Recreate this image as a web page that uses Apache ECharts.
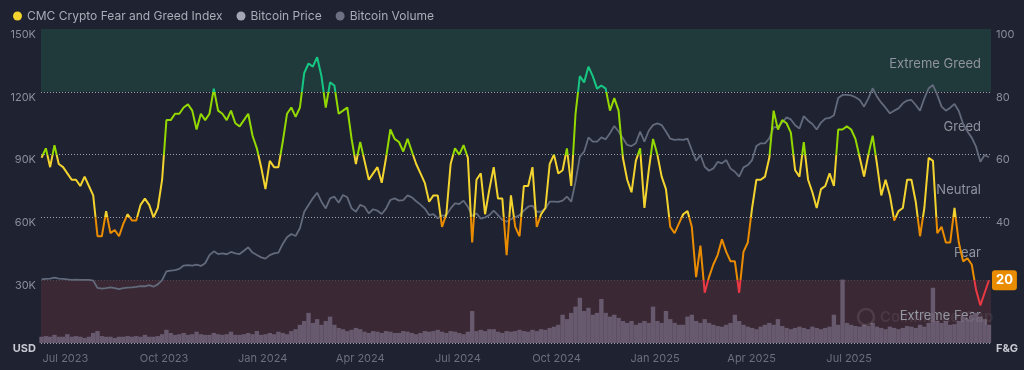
<!DOCTYPE html>
<html><head><meta charset="utf-8">
<script src="https://cdn.jsdelivr.net/npm/echarts@6/dist/echarts.min.js"></script>
<style>html,body{margin:0;padding:0;background:#1f2230;}#c{width:1024px;height:370px;}</style>
</head><body><div id="c"></div>
<script>
// sampling: first sample date and spacing between samples
const START = Date.UTC(2023, 5, 8, 17);
const STEP_HOURS = 96.4;

const fearGreed = [
59,62,56,63,57,56,54,52,52,50,53,50,47,34,34,42,35,36,34,38,41,39,39,44,46,44,40,43,52,71,71,73,73,75,76,74,68,
73,71,73,81,74,73,71,74,70,69,71,73,66,62,56,49,58,56,56,64,73,75,72,75,86,89,88,91,85,75,83,82,73,74,75,65,57,64,
58,52,54,56,51,59,68,65,64,61,65,61,57,54,51,45,47,47,37,41,57,62,60,63,59,32,52,54,41,49,56,46,46,28,47,37,34,
50,50,56,37,41,43,57,60,54,55,62,50,73,85,83,88,85,81,82,81,74,78,74,59,52,48,58,62,43,55,65,60,53,49,37,35,38,
41,42,37,21,31,16,21,25,28,33,29,26,26,16,29,32,43,52,52,53,59,74,68,71,70,67,55,53,64,52,48,43,49,50,54,50,68,
68,69,68,65,59,53,60,66,57,47,52,47,39,42,43,52,52,45,34,43,59,58,35,37,32,32,43,32,26,27,25,17,12,16,20
];

const btcPriceK = [
30.4,30.6,30.8,31.2,30.8,30.6,30.4,30.2,30.3,30.2,30.2,30.2,29.8,26.3,26.0,26.2,26.6,26.2,25.7,26.2,26.5,26.6,26.8,27.2,27.1,27.6,26.9,28.0,30.0,34.2,34.6,34.8,35.4,37.0,37.2,37.0,37.4,
36.8,38.1,42.0,43.8,42.5,42.8,42.4,43.5,42.8,42.5,44.1,45.7,43.2,42.0,40.9,40.3,42.0,42.8,43.2,47.3,50.5,52.1,51.1,54.8,62.7,65.9,69.1,71.8,67.5,64.3,69.1,69.9,67.0,70.7,69.6,64.3,62.7,66.0,
65.1,61.9,63.9,63.2,61.6,64.2,68.3,69.1,68.0,68.3,70.5,69.6,67.7,66.1,64.2,61.1,61.6,59.6,60.8,61.1,64.3,66.7,66.4,68.0,65.1,60.7,61.9,59.4,60.0,61.1,63.2,61.1,58.8,58.0,59.1,60.0,61.1,
63.2,65.1,65.6,62.7,62.7,64.3,67.5,67.5,67.4,68.0,69.9,67.5,77.1,89.0,91.4,98.2,96.2,96.2,98.2,97.3,100.2,103.7,101.0,97.8,94.6,94.1,95.4,101.0,96.2,101.4,104.1,104.9,104.1,101.0,97.6,97.0,97.3,
97.0,97.6,92.2,87.1,89.8,84.2,82.3,83.4,86.5,85.8,87.4,83.3,81.8,79.5,83.9,85.0,87.4,94.1,95.4,95.4,97.8,103.0,103.3,105.3,107.8,106.8,104.0,102.5,108.4,106.2,104.6,102.0,105.3,107.2,107.5,108.8,117.0,
118.5,118.5,118.3,117.4,116.1,112.9,116.9,121.7,117.7,114.8,112.4,109.7,111.0,112.1,114.5,115.8,116.1,113.7,111.0,116.9,121.7,123.2,118.5,112.9,111.0,112.4,114.2,110.8,104.6,101.0,98.1,93.8,86.6,89.8,88.7
];

const btcVolumeB = [
10,11,10,13,10,10,14,10,11,10,8,10,16,19,11,10,10,8,10,10,11,10,11,10,13,10,10,11,14,21,16,13,14,16,13,14,18,
14,13,13,16,14,13,14,18,13,13,14,16,14,19,13,14,16,14,18,16,14,19,22,29,35,48,32,38,29,35,42,29,24,22,19,21,24,22,
18,16,19,18,16,19,18,16,16,19,18,16,14,16,19,18,19,21,18,16,19,18,16,14,18,51,19,21,19,22,22,18,16,19,18,19,21,
19,18,21,19,22,21,24,26,29,45,38,48,58,72,51,56,45,48,70,48,42,45,40,35,32,35,29,32,35,32,58,35,32,51,38,32,29,
29,42,45,35,32,38,32,29,27,26,29,32,45,35,29,26,24,22,26,29,32,29,38,27,24,22,24,26,24,22,26,24,22,24,26,45,29,
101,32,29,27,26,29,27,32,26,24,22,26,24,22,24,27,26,24,29,26,32,88,35,32,35,29,30,35,42,38,45,48,42,38,29
];

const quarterTicks = ['2023-07-01','2023-10-01','2024-01-01','2024-04-01','2024-07-01','2024-10-01','2025-01-01','2025-04-01','2025-07-01'];
const quarterLabels = ['Jul 2023','Oct 2023','Jan 2024','Apr 2024','Jul 2024','Oct 2024','Jan 2025','Apr 2025','Jul 2025'];
const bandNames = ['Extreme Fear','Fear','Neutral','Greed','Extreme Greed'];
const bandBounds = [0,20,40,60,80,100];
const bandColors = ['#EA3943','#EA8C00','#F3D42F','#93D900','#16C784'];
const seriesNames = ['CMC Crypto Fear and Greed Index','Bitcoin Price','Bitcoin Volume'];

const ts = i => START + i * STEP_HOURS * 3600 * 1000;
const fgData = fearGreed.map((v, i) => [ts(i), v]);
const priceData = btcPriceK.map((v, i) => [ts(i), v * 1000]);
const volData = btcVolumeB.map((v, i) => [ts(i), v]);
const tickTimes = quarterTicks.map(d => Date.parse(d + 'T00:00:00Z'));

const bandFill = ['#3a2834', 'transparent', 'transparent', 'transparent', '#203a3b'];
const markAreaData = bandNames.map((n, k) => [
  { name: n, yAxis: bandBounds[k] * 1500, itemStyle: { color: bandFill[k] } },
  { yAxis: bandBounds[k + 1] * 1500 }
]);

const chart = echarts.init(document.getElementById('c'));
chart.setOption({
  backgroundColor: '#1f2230',
  animation: false,
  textStyle: { fontFamily: 'Inter' },
  legend: {
    left: 8, top: 5, icon: 'circle', itemWidth: 9, itemHeight: 9, itemGap: 14,
    textStyle: { color: '#a9adb8', fontSize: 12, fontFamily: 'Inter' },
    data: [
      { name: seriesNames[0], itemStyle: { color: '#F3D42F' } },
      { name: seriesNames[1], itemStyle: { color: '#a3a7b3' } },
      { name: seriesNames[2], itemStyle: { color: '#6c7080' } }
    ]
  },
  grid: { left: 41, right: 33, top: 29, bottom: 27, containLabel: false },
  xAxis: {
    type: 'value',
    min: Date.UTC(2023, 5, 8, 5),
    max: Date.UTC(2025, 10, 10, 7),
    axisLine: { show: false }, axisTick: { show: false }, splitLine: { show: false },
    axisLabel: {
      customValues: tickTimes,
      formatter: v => { const k = tickTimes.indexOf(v); return k >= 0 ? quarterLabels[k] : ''; },
      color: '#6a7080', fontSize: 11, margin: 10, fontFamily: 'Inter',
      showMinLabel: true, showMaxLabel: true
    }
  },
  yAxis: [
    {
      type: 'value', min: 0, max: 150000, interval: 30000, position: 'left',
      axisLine: { show: false }, axisTick: { show: false },
      splitLine: { show: true, lineStyle: { color: 'rgba(200,204,212,0.75)', type: [1, 2], width: 1 } },
      axisLabel: {
        margin: 5, verticalAlign: 'top', color: '#8a8e9a', fontSize: 11, fontFamily: 'Inter',
        formatter: v => v === 0 ? '{u|USD}' : (v / 1000) + 'K',
        rich: { u: { fontWeight: 'bold', color: '#c8cbd3', fontSize: 11, fontFamily: 'Inter' } }
      }
    },
    {
      type: 'value', min: 0, max: 100, interval: 20, position: 'right',
      axisLine: { show: false }, axisTick: { show: false }, splitLine: { show: false },
      axisLabel: {
        margin: 5, verticalAlign: 'top', color: '#8a8e9a', fontSize: 11, fontFamily: 'Inter',
        formatter: v => v === 0 ? '{u|F&G}' : String(v),
        rich: { u: { fontWeight: 'bold', color: '#c8cbd3', fontSize: 11, fontFamily: 'Inter' } }
      }
    },
    { type: 'value', min: 0, max: 500, show: false }
  ],
  visualMap: {
    show: false, type: 'piecewise', seriesIndex: 0, dimension: 1,
    pieces: bandNames.map((n, k) => k === 0 ? { lt: bandBounds[1], color: bandColors[0] }
      : (k === 4 ? { gte: bandBounds[4], color: bandColors[4] }
      : { gte: bandBounds[k], lt: bandBounds[k + 1], color: bandColors[k] }))
  },
  graphic: [
    { type: 'circle', shape: { cx: 866, cy: 317, r: 8 }, style: { fill: 'none', stroke: 'rgba(255,255,255,0.10)', lineWidth: 2.5 }, z: 10 },
    { type: 'text', x: 880, y: 317, style: { text: 'CoinMarketCap', fill: 'rgba(255,255,255,0.08)', fontSize: 15, fontWeight: 600, fontFamily: 'Inter', verticalAlign: 'middle' }, z: 10 }
  ],
  series: [
    {
      name: seriesNames[0], type: 'line', yAxisIndex: 1, data: fgData, showSymbol: false, z: 5,
      itemStyle: { color: '#F3D42F' },
      lineStyle: { width: 2 },
      endLabel: {
        show: true, distance: 3,
        formatter: p => String(p.value[1]),
        backgroundColor: '#EA8C00', borderRadius: 3, padding: [4, 4, 3, 4],
        color: '#ffffff', fontWeight: 'bold', fontSize: 13, fontFamily: 'Inter'
      }
    },
    {
      name: seriesNames[1], type: 'line', yAxisIndex: 0, data: priceData, showSymbol: false, z: 4,
      itemStyle: { color: '#626a7c' },
      lineStyle: { width: 1.8, color: '#626a7c' },
      markArea: {
        silent: true,
        label: { show: true, position: 'insideRight', distance: 10, offset: [0, 4], color: '#8f939e', fontSize: 13, fontFamily: 'Inter' },
        data: markAreaData
      }
    },
    {
      name: seriesNames[2], type: 'bar', yAxisIndex: 2, data: volData, barWidth: 4.4, z: 3,
      itemStyle: { color: '#685a6e' }
    }
  ]
});
</script></body></html>
